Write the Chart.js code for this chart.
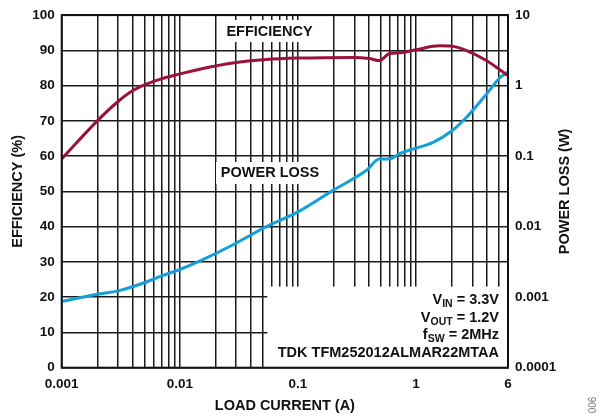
<!DOCTYPE html>
<html>
<head>
<meta charset="utf-8">
<script src="https://cdn.jsdelivr.net/npm/chart.js@4.4.1/dist/chart.umd.min.js"></script>
<style>
  html, body { margin: 0; padding: 0; background: #fff; }
  #wrap { width: 600px; height: 420px; position: relative; }
</style>
</head>
<body>
<div id="wrap"><canvas id="c" width="600" height="420"></canvas></div>
<script>
// ---- Data ----
const effCurrent = [0.001, 0.002, 0.003, 0.004, 0.005, 0.006, 0.008, 0.01, 0.015, 0.028, 0.054, 0.1, 0.29, 0.40, 0.49, 0.596, 0.72, 1.0, 1.58, 2.0, 2.65, 3.9, 5.07, 6];
const efficiency = [59.2, 70, 75.5, 78.6, 80.2, 81.2, 82.5, 83.3, 84.7, 86.4, 87.4, 87.8, 88, 87.7, 87.1, 89.1, 89.3, 90.2, 91.3, 91.2, 90.0, 87.2, 84.6, 82.8];

const lossCurrent = [0.001, 0.002, 0.003, 0.005, 0.007, 0.01, 0.015, 0.028, 0.054, 0.1, 0.198, 0.378, 0.49, 0.596, 0.72, 1.0, 1.38, 2.0, 2.65, 3.9, 5.07, 6];
const powerLoss = [0.00087, 0.0011, 0.00123, 0.0016, 0.002, 0.00247, 0.0033, 0.0055, 0.01, 0.0162, 0.0327, 0.0624, 0.091, 0.091, 0.108, 0.13, 0.155, 0.227, 0.35, 0.74, 1.27, 1.57];

const xGridValues = [0.001,0.002,0.003,0.004,0.005,0.006,0.007,0.008,0.009,
                     0.01,0.02,0.03,0.04,0.05,0.06,0.07,0.08,0.09,
                     0.1,0.2,0.3,0.4,0.5,0.6,0.7,0.8,0.9,
                     1,2,3,4,5,6];
const xTickLabels = ['0.001', '0.01', '0.1', '1', '6'];
const lossTickValues = [0.0001, 0.001, 0.01, 0.1, 1, 10];
const lossTickLabels = ['0.0001', '0.001', '0.01', '0.1', '1', '10'];

const FONT = '"Liberation Sans", Arial, Helvetica, sans-serif';
const RED = '#9b1239';
const BLUE = '#13a0d8';

const overlayPlugin = {
  id: 'overlay',
  beforeDatasetsDraw(chart) {
    const {ctx, chartArea, scales} = chart;
    const x = scales.x, y = scales.y;
    ctx.save();
    ctx.fillStyle = '#fff';
    // annotation box (lower right)
    const bx = x.getPixelForValue(0.055);
    const by = y.getPixelForValue(23);
    ctx.fillRect(bx, by, chartArea.right - bx, chartArea.bottom - by);
    // label backgrounds
    ctx.fillRect(222, 20, 96, 22);
    ctx.fillRect(216, 162, 108, 22);
    ctx.restore();
  },
  afterDatasetsDraw(chart) {
    const {ctx, chartArea} = chart;
    ctx.save();
    // frame
    ctx.strokeStyle = '#111';
    ctx.lineWidth = 2;
    ctx.strokeRect(chartArea.left, chartArea.top, chartArea.right - chartArea.left, chartArea.bottom - chartArea.top);

    ctx.fillStyle = '#111';
    ctx.textBaseline = 'middle';
    ctx.textAlign = 'center';
    ctx.font = 'bold 14.5px ' + FONT;
    ctx.fillText('EFFICIENCY', 269.5, 32);
    ctx.fillText('POWER LOSS', 270, 173);

    // axis titles
    ctx.fillText('LOAD CURRENT (A)', (chartArea.left + chartArea.right) / 2, 406);
    const midY = (chartArea.top + chartArea.bottom) / 2;
    ctx.save();
    ctx.translate(17.5, midY);
    ctx.rotate(-Math.PI / 2);
    ctx.fillText('EFFICIENCY (%)', 0, 0);
    ctx.restore();
    ctx.save();
    ctx.translate(565, midY);
    ctx.rotate(-Math.PI / 2);
    ctx.fillText('POWER LOSS (W)', 0, 0);
    ctx.restore();

    // annotation lines (right aligned)
    const lines = [
      {base: 304, parts: [['V', 14.5, 0], ['IN', 10.5, 3], [' = 3.3V', 14.5, 0]]},
      {base: 321.5, parts: [['V', 14.5, 0], ['OUT', 10.5, 3], [' = 1.2V', 14.5, 0]]},
      {base: 339, parts: [['f', 14.5, 0], ['SW', 10.5, 3], [' = 2MHz', 14.5, 0]]},
      {base: 356.5, parts: [['TDK TFM252012ALMAR22MTAA', 14.5, 0]]}
    ];
    ctx.textBaseline = 'alphabetic';
    ctx.textAlign = 'left';
    const rightX = 499;
    lines.forEach(line => {
      let total = 0;
      line.parts.forEach(p => { ctx.font = 'bold ' + p[1] + 'px ' + FONT; total += ctx.measureText(p[0]).width; });
      let cx = rightX - total;
      line.parts.forEach(p => {
        ctx.font = 'bold ' + p[1] + 'px ' + FONT;
        ctx.fillText(p[0], cx, line.base + p[2]);
        cx += ctx.measureText(p[0]).width;
      });
    });

    // figure number
    ctx.save();
    ctx.fillStyle = '#777';
    ctx.font = '10px ' + FONT;
    ctx.textAlign = 'center';
    ctx.textBaseline = 'middle';
    ctx.translate(593, 405);
    ctx.rotate(-Math.PI / 2);
    ctx.fillText('006', 0, 0);
    ctx.restore();
    ctx.restore();
  }
};

const tickFont = {family: FONT, size: 13.5, weight: 'bold'};

new Chart(document.getElementById('c'), {
  type: 'line',
  data: {
    datasets: [
      {
        label: 'EFFICIENCY',
        data: effCurrent.map((v, i) => ({x: v, y: efficiency[i]})),
        borderColor: RED,
        borderWidth: 3,
        pointRadius: 0,
        cubicInterpolationMode: 'monotone',
        yAxisID: 'y'
      },
      {
        label: 'POWER LOSS',
        data: lossCurrent.map((v, i) => ({x: v, y: powerLoss[i]})),
        borderColor: BLUE,
        borderWidth: 3,
        pointRadius: 0,
        cubicInterpolationMode: 'monotone',
        yAxisID: 'y2'
      }
    ]
  },
  options: {
    responsive: false,
    animation: false,
    devicePixelRatio: 1,
    layout: {padding: {top: 11, left: 0, right: 0, bottom: 0}},
    plugins: {legend: {display: false}, tooltip: {enabled: false}},
    scales: {
      x: {
        type: 'logarithmic',
        min: 0.001,
        max: 6,
        afterBuildTicks: s => { s.ticks = xGridValues.map(v => ({value: v})); },
        afterFit: s => { s.height = 52.3; },
        ticks: {
          autoSkip: false,
          maxRotation: 0,
          padding: 8,
          color: '#111',
          font: tickFont,
          callback: function (value) {
            const lbl = xTickLabels.find(t => Math.abs(parseFloat(t) - value) < 1e-9);
            return lbl === undefined ? '' : lbl;
          }
        },
        grid: {color: '#1a1a1a', lineWidth: 1.5, drawTicks: false},
        border: {display: false}
      },
      y: {
        type: 'linear',
        position: 'left',
        min: 0,
        max: 100,
        afterFit: s => { s.width = 61.7; },
        ticks: {stepSize: 10, padding: 7, color: '#111', font: tickFont},
        grid: {color: '#1a1a1a', lineWidth: 1.5, drawTicks: false},
        border: {display: false}
      },
      y2: {
        type: 'logarithmic',
        position: 'right',
        min: 0.0001,
        max: 10,
        afterBuildTicks: s => { s.ticks = lossTickValues.map(v => ({value: v})); },
        afterFit: s => { s.width = 92; },
        ticks: {
          padding: 7,
          color: '#111',
          font: tickFont,
          callback: function (value) {
            const i = lossTickValues.findIndex(v => Math.abs(v - value) / v < 1e-6);
            return i < 0 ? '' : lossTickLabels[i];
          }
        },
        grid: {display: false, drawTicks: false},
        border: {display: false}
      }
    }
  },
  plugins: [overlayPlugin]
});
</script>
</body>
</html>
